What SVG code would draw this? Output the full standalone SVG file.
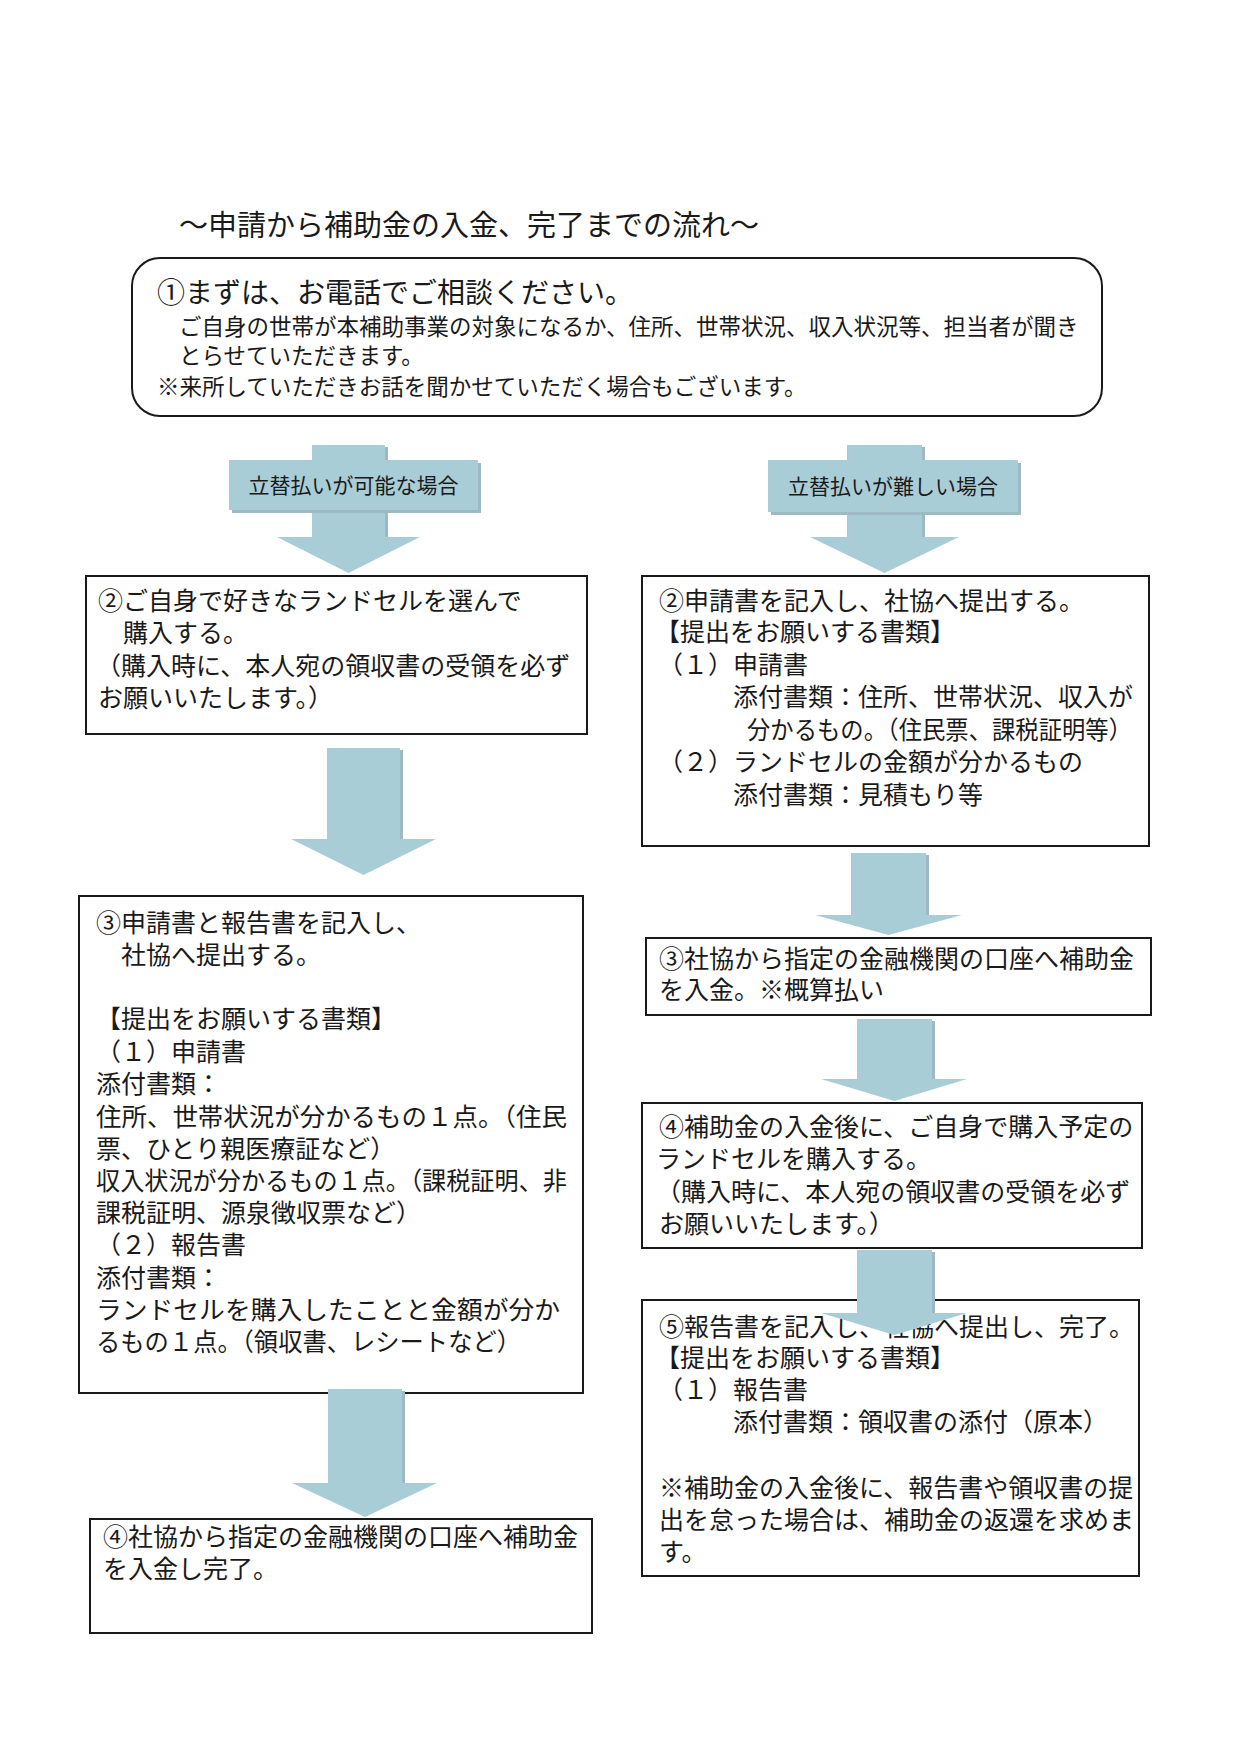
<svg xmlns="http://www.w3.org/2000/svg" width="1241" height="1755" viewBox="0 0 1241 1755">
<style>
.t{font-family:"Noto Sans CJK JP","Noto Sans CJK SC",sans-serif;fill:#1a1a1a}
.b{font-size:25px}
.s{font-size:22.5px}
.box{fill:#ffffff;stroke:#1a1a1a;stroke-width:2}
.arw{fill:#a9cdd7}
.sh{fill:#9dbac3}
.lbl{font-size:21px;text-anchor:middle}
</style>
<rect x="0" y="0" width="1241" height="1755" fill="#ffffff"/>
<text class="t" x="179" y="236" font-size="29">～申請から補助金の入金、完了までの流れ～</text>

<g id="step1">
<rect class="box" x="132" y="258" width="970" height="158" rx="28"/>
<text class="t" x="157" y="303" font-size="28">①まずは、お電話でご相談ください。</text>
<text class="t s" x="179" y="335">ご自身の世帯が本補助事業の対象になるか、住所、世帯状況、収入状況等、担当者が聞き</text>
<text class="t s" x="179" y="364">とらせていただきます。</text>
<text class="t s" x="157" y="395">※来所していただきお話を聞かせていただく場合もございます。</text>
</g>

<g id="left2">
<rect class="box" x="86" y="576" width="501" height="158"/>
<text class="t b" x="98" y="610">②ご自身で好きなランドセルを選んで</text>
<text class="t b" x="123" y="642">購入する。</text>
<text class="t b" x="96" y="675">（購入時に、本人宛の領収書の受領を必ず</text>
<text class="t b" x="98" y="707">お願いいたします。）</text>
</g>

<g id="left3">
<rect class="box" x="79" y="896" width="504" height="497"/>
<text class="t b" x="96" y="932">③申請書と報告書を記入し、</text>
<text class="t b" x="121" y="964">社協へ提出する。</text>
<text class="t b" x="96" y="1028">【提出をお願いする書類】</text>
<text class="t b" x="96" y="1061">（１）申請書</text>
<text class="t b" x="96" y="1093">添付書類：</text>
<text class="t b" x="96" y="1126" textLength="471" lengthAdjust="spacingAndGlyphs">住所、世帯状況が分かるもの１点。（住民</text>
<text class="t b" x="96" y="1158">票、ひとり親医療証など）</text>
<text class="t b" x="96" y="1190" textLength="471" lengthAdjust="spacingAndGlyphs">収入状況が分かるもの１点。（課税証明、非</text>
<text class="t b" x="96" y="1222">課税証明、源泉徴収票など）</text>
<text class="t b" x="96" y="1254">（２）報告書</text>
<text class="t b" x="96" y="1287">添付書類：</text>
<text class="t b" x="96" y="1319" textLength="464" lengthAdjust="spacingAndGlyphs">ランドセルを購入したことと金額が分か</text>
<text class="t b" x="96" y="1351" textLength="425" lengthAdjust="spacingAndGlyphs">るもの１点。（領収書、レシートなど）</text>
</g>

<g id="left4">
<rect class="box" x="90" y="1519" width="502" height="114"/>
<text class="t b" x="103" y="1546">④社協から指定の金融機関の口座へ補助金</text>
<text class="t b" x="103" y="1578">を入金し完了。</text>
</g>

<g id="right2">
<rect class="box" x="642" y="576" width="507" height="270"/>
<text class="t b" x="659" y="610">②申請書を記入し、社協へ提出する。</text>
<text class="t b" x="655" y="641">【提出をお願いする書類】</text>
<text class="t b" x="658" y="674">（１）申請書</text>
<text class="t b" x="733" y="706">添付書類：住所、世帯状況、収入が</text>
<text class="t b" x="747" y="739" textLength="385" lengthAdjust="spacingAndGlyphs">分かるもの。（住民票、課税証明等）</text>
<text class="t b" x="658" y="771">（２）ランドセルの金額が分かるもの</text>
<text class="t b" x="733" y="804">添付書類：見積もり等</text>
</g>

<g id="right3">
<rect class="box" x="646" y="938" width="505" height="77"/>
<text class="t b" x="659" y="968">③社協から指定の金融機関の口座へ補助金</text>
<text class="t b" x="659" y="999">を入金。※概算払い</text>
</g>

<g id="right4">
<rect class="box" x="642" y="1103" width="500" height="145"/>
<text class="t b" x="659" y="1136">④補助金の入金後に、ご自身で購入予定の</text>
<text class="t b" x="656" y="1168">ランドセルを購入する。</text>
<text class="t b" x="656" y="1201">（購入時に、本人宛の領収書の受領を必ず</text>
<text class="t b" x="659" y="1233">お願いいたします。）</text>
</g>

<g id="right5">
<rect class="box" x="642" y="1300" width="497" height="276"/>
<text class="t b" x="659" y="1336">⑤報告書を記入し、社協へ提出し、完了。</text>
<text class="t b" x="655" y="1367">【提出をお願いする書類】</text>
<text class="t b" x="658" y="1399">（１）報告書</text>
<text class="t b" x="733" y="1431">添付書類：領収書の添付（原本）</text>
<text class="t b" x="659" y="1497">※補助金の入金後に、報告書や領収書の提</text>
<text class="t b" x="659" y="1529">出を怠った場合は、補助金の返還を求めま</text>
<text class="t b" x="659" y="1561">す。</text>
</g>

<g id="connectors">
<g id="arrow-left-top">
<rect class="sh" x="315" y="447" width="73" height="92"/>
<rect class="arw" x="312" y="445" width="73" height="93"/>
<polygon class="arw" points="277,537 420,537 348.5,573"/>
<rect class="sh" x="232" y="463" width="249" height="50"/>
<rect class="arw" x="229" y="460" width="249" height="50"/>
<text class="t lbl" x="353.5" y="493">立替払いが可能な場合</text>
</g>
<g id="arrow-right-top">
<rect class="sh" x="850" y="447" width="75" height="92"/>
<rect class="arw" x="847" y="445" width="75" height="93"/>
<polygon class="arw" points="810,537 959,537 884.5,573"/>
<rect class="sh" x="771" y="463" width="250" height="52"/>
<rect class="arw" x="768" y="460" width="250" height="52"/>
<text class="t lbl" x="893" y="494">立替払いが難しい場合</text>
</g>
<g id="arrow-left-2-3">
<rect class="sh" x="330" y="750" width="73" height="90"/>
<rect class="arw" x="327" y="748" width="73" height="92"/>
<polygon class="arw" points="291,839 436,839 363.5,875"/>
</g>
<g id="arrow-left-3-4">
<rect class="sh" x="331" y="1391" width="74" height="93"/>
<rect class="arw" x="328" y="1389" width="74" height="95"/>
<polygon class="arw" points="292,1483 437,1483 365,1517"/>
</g>
<g id="arrow-right-2-3">
<rect class="sh" x="854" y="855" width="75" height="61"/>
<rect class="arw" x="851" y="853" width="75" height="63"/>
<polygon class="arw" points="815,915 962,915 888.5,935"/>
</g>
<g id="arrow-right-3-4">
<rect class="sh" x="860" y="1021" width="75" height="59"/>
<rect class="arw" x="857" y="1019" width="75" height="61"/>
<polygon class="arw" points="821,1079 967,1079 894.5,1101"/>
</g>
<g id="arrow-right-4-5">
<rect class="sh" x="860" y="1252" width="75" height="62"/>
<rect class="arw" x="857" y="1250" width="75" height="64"/>
<polygon class="arw" points="821,1313 967,1313 894.5,1335"/>
</g>
</g>
</svg>
